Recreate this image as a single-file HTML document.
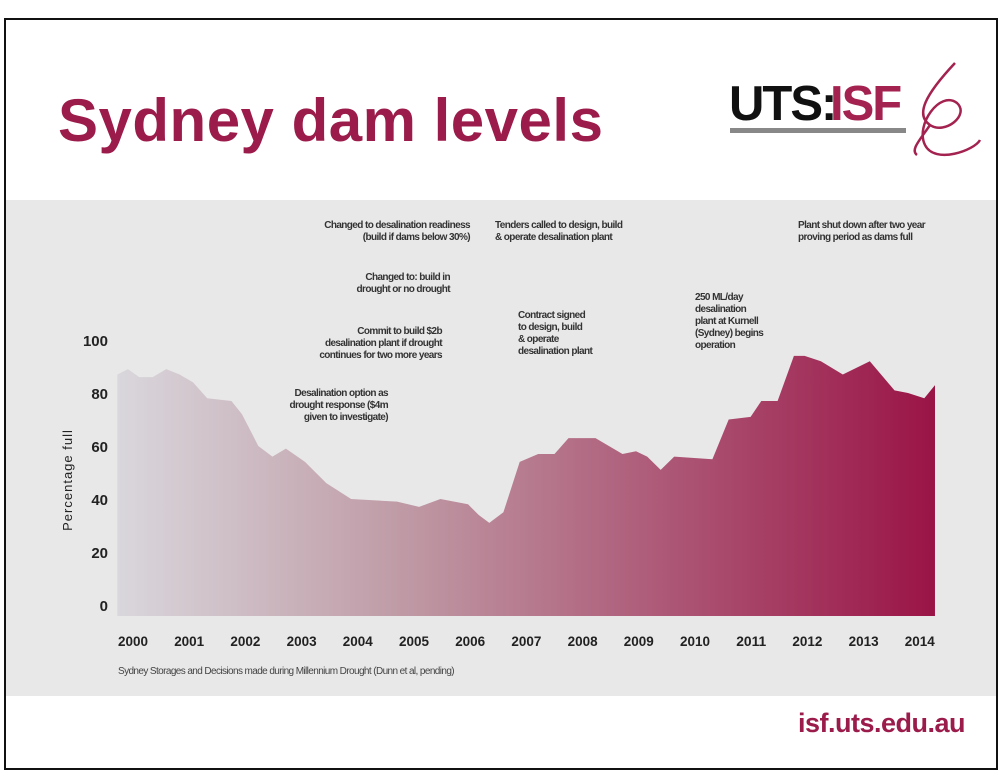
<!DOCTYPE html>
<html><head><meta charset="utf-8"><style>
body{margin:0;width:1005px;height:777px;background:#fff;position:relative;overflow:hidden;font-family:"Liberation Sans",sans-serif}
.frame{position:absolute;left:4px;top:18px;width:994px;height:752px;border:2px solid #111;box-sizing:border-box}
.band{position:absolute;left:6px;top:200px;width:990px;height:496px;background:#e8e8e8}
.title{position:absolute;left:58px;top:86px;font-size:60px;font-weight:bold;color:#9b1b4a;letter-spacing:0.5px}
.ann{position:absolute;font-size:10px;line-height:12px;color:#333;letter-spacing:-0.6px;font-weight:bold}
.url{position:absolute;right:40px;top:708px;font-size:27px;font-weight:bold;color:#9b1b4a;letter-spacing:-0.5px}
</style></head><body>
<div class="frame"></div>
<div class="band"></div>
<div class="title">Sydney dam levels</div>
<svg style="position:absolute;left:725px;top:55px" width="260" height="110">
<text x="4" y="65" font-family="Liberation Sans" font-weight="bold" font-size="49" fill="#111" letter-spacing="-2">UTS:</text>
<text x="105" y="65" font-family="Liberation Sans" font-weight="bold" font-size="49" fill="#a3224f" letter-spacing="-2">ISF</text>
<rect x="5" y="73" width="176" height="5" fill="#888"/>
<path d="M230 8 C200 40,190 60,205 70 C220 80,245 60,232 48 C215 35,190 70,200 90 C210 110,250 95,255 85 M205 70 C195 85,185 95,192 100" fill="none" stroke="#a3224f" stroke-width="2.5"/>
</svg>
<div class="ann" style="left:290px;top:220px;text-align:right;width:180px">Changed to desalination readiness<br>(build if dams below 30%)</div>
<div class="ann" style="left:495px;top:220px">Tenders called to design, build<br>&amp; operate desalination plant</div>
<div class="ann" style="left:798px;top:220px">Plant shut down after two year<br>proving period as dams full</div>
<div class="ann" style="left:300px;top:272px;text-align:right;width:150px">Changed to: build in<br>drought or no drought</div>
<div class="ann" style="left:260px;top:326px;text-align:right;width:182px">Commit to build $2b<br>desalination plant if drought<br>continues for two more years</div>
<div class="ann" style="left:518px;top:310px">Contract signed<br>to design, build<br>&amp; operate<br>desalination plant</div>
<div class="ann" style="left:695px;top:292px">250 ML/day<br>desalination<br>plant at Kurnell<br>(Sydney) begins<br>operation</div>
<div class="ann" style="left:250px;top:388px;text-align:right;width:138px">Desalination option as<br>drought response ($4m<br>given to investigate)</div>
<svg id="chart" style="position:absolute;left:0;top:0" width="1005" height="777"></svg>
<div class="ann" style="left:118px;top:666px;font-weight:normal;color:#444">Sydney Storages and Decisions made during Millennium Drought (Dunn et al, pending)</div>
<div class="url">isf.uts.edu.au</div>
<script>
const times=[1999.72,1999.91,2000.11,2000.35,2000.59,2000.83,2001.07,2001.32,2001.75,2001.94,2002.23,2002.48,2002.72,2003.06,2003.44,2003.88,2004.70,2005.09,2005.47,2005.96,2006.15,2006.34,2006.59,2006.88,2007.21,2007.50,2007.75,2008.23,2008.71,2008.95,2009.15,2009.39,2009.63,2010.31,2010.60,2010.99,2011.18,2011.47,2011.76,2011.95,2012.24,2012.63,2013.11,2013.55,2013.79,2014.08,2014.27];
const levels=[87,89,86,86,89,87,84,78,77,72,60,56,59,54,46,40,39,37,40,38,34,31,35,54,57,57,63,63,57,58,56,51,56,55,70,71,77,77,94,94,92,87,92,81,80,78,83];
const yearLabels=[2000,2001,2002,2003,2004,2005,2006,2007,2008,2009,2010,2011,2012,2013,2014];
const yTicks=[0,20,40,60,80,100];
const NS="http://www.w3.org/2000/svg";
const svg=document.getElementById('chart');
const xs=t=>133+(t-2000)*56.2;
const ys=v=>605-v*2.65;
const base=616;
const defs=document.createElementNS(NS,'defs');
defs.innerHTML='<linearGradient id="g" x1="117" x2="935" y1="0" y2="0" gradientUnits="userSpaceOnUse"><stop offset="0" stop-color="#d9d7dc"/><stop offset="0.35" stop-color="#bf9aa5"/><stop offset="1" stop-color="#9a1446"/></linearGradient>';
svg.appendChild(defs);
let d='M'+xs(times[0])+' '+base;
times.forEach((t,i)=>{d+=' L'+xs(t).toFixed(1)+' '+ys(levels[i]).toFixed(1);});
d+=' L'+xs(times[times.length-1])+' '+base+' Z';
const p=document.createElementNS(NS,'path');
p.setAttribute('d',d);p.setAttribute('fill','url(#g)');


svg.appendChild(p);
yearLabels.forEach(y=>{
 const t=document.createElementNS(NS,'text');
 t.setAttribute('x',xs(y));t.setAttribute('y',646);t.setAttribute('text-anchor','middle');
 t.setAttribute('font-size','14');t.setAttribute('font-weight','bold');t.setAttribute('fill','#222');
 t.setAttribute('font-family','Liberation Sans');t.setAttribute('textLength','30');t.setAttribute('lengthAdjust','spacingAndGlyphs');
 
 
 t.textContent=y;svg.appendChild(t);
});
yTicks.forEach(v=>{
 const t=document.createElementNS(NS,'text');
 t.setAttribute('x',108);t.setAttribute('y',ys(v)+6);t.setAttribute('text-anchor','end');
 t.setAttribute('font-size','15');t.setAttribute('font-weight','bold');t.setAttribute('fill','#222');
 t.setAttribute('font-family','Liberation Sans');
 
 
 t.textContent=v;svg.appendChild(t);
});
const yt=document.createElementNS(NS,'text');
yt.setAttribute('transform','translate(72,480) rotate(-90)');yt.setAttribute('text-anchor','middle');
yt.setAttribute('font-size','13');yt.setAttribute('fill','#222');yt.setAttribute('font-family','Liberation Sans');yt.setAttribute('letter-spacing','1');


yt.textContent='Percentage full';svg.appendChild(yt);
</script>
</body></html>
